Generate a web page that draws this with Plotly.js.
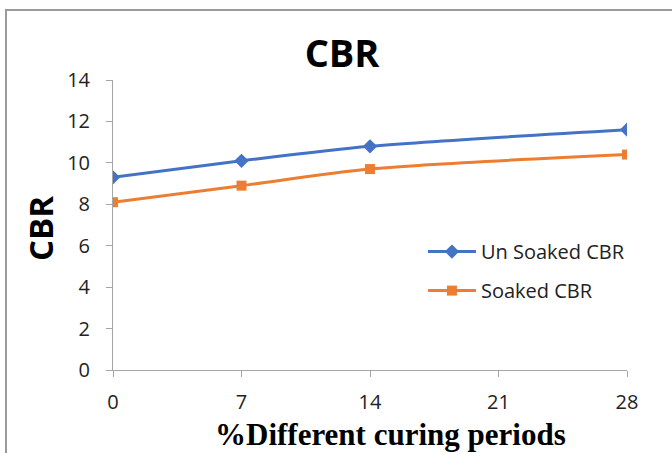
<!DOCTYPE html>
<html>
<head>
<meta charset="utf-8">
<script src="https://cdn.plot.ly/plotly-3.0.1.min.js"></script>
<style>
  html, body { margin: 0; padding: 0; background: #fff; }
  #wrap { position: relative; width: 672px; height: 453px; }
  #chart { width: 672px; height: 453px; }
  #frame { position: absolute; left: 5px; top: 9px; right: 0; bottom: 0;
           border-top: 2px solid #9a9a9a; border-left: 2px solid #9a9a9a; pointer-events: none; }
</style>
</head>
<body>
<div id="wrap">
  <div id="chart"></div>
  <div id="frame"></div>
</div>
<script>
const curingDays = [0, 7, 14, 28];
const unSoakedCBR = [9.3, 10.1, 10.8, 11.6];
const soakedCBR = [8.1, 8.9, 9.7, 10.4];
const xTicks = [0, 7, 14, 21, 28];
const yTicks = [0, 2, 4, 6, 8, 10, 12, 14];
const seriesNames = ["Un Soaked CBR", "Soaked CBR"];

const traces = [
  {
    x: curingDays, y: unSoakedCBR, name: seriesNames[0], type: "scatter", mode: "lines+markers",
    line: { color: "#4472C4", width: 3, shape: "spline", smoothing: 0.8 },
    marker: { symbol: "diamond", size: 11, color: "#4472C4" },
    legendgroup: "a"
  },
  {
    x: curingDays, y: soakedCBR, name: seriesNames[1], type: "scatter", mode: "lines+markers",
    line: { color: "#ED7D31", width: 3, shape: "spline", smoothing: 0.8 },
    marker: { symbol: "square", size: 10, color: "#ED7D31" },
    legendgroup: "b"
  }
];

const layout = {
  width: 672, height: 453,
  margin: { l: 113, r: 45, t: 80, b: 83 },
  paper_bgcolor: "#fff", plot_bgcolor: "#fff",
  showlegend: true,
  title: { text: "<b>CBR</b>", x: 0.509, xref: "container", xanchor: "center", y: 0.881, yref: "container", yanchor: "middle",
           font: { family: "Open Sans, sans-serif", size: 38, color: "#000" } },
  xaxis: {
    range: [0, 28], tickvals: xTicks, ticktext: xTicks.map(String),
    showgrid: false, zeroline: false, showline: true, linecolor: "#a6a6a6", linewidth: 1,
    ticks: "outside", ticklen: 6, tickcolor: "#a6a6a6", ticklabelstandoff: 8,
    tickfont: { family: "Open Sans, sans-serif", size: 20, color: "#222" }
  },
  yaxis: {
    range: [0, 14], tickvals: yTicks,
    showgrid: false, zeroline: false, showline: true, linecolor: "#a6a6a6", linewidth: 1,
    ticks: "outside", ticklen: 6, tickcolor: "#a6a6a6", ticklabelstandoff: 12,
    tickfont: { family: "Open Sans, sans-serif", size: 20, color: "#222" }
  },
  legend: {
    x: 0.603, y: 0.341, xanchor: "left", yanchor: "middle", bgcolor: "rgba(0,0,0,0)",
    font: { family: "Open Sans, sans-serif", size: 20, color: "#222" },
    tracegroupgap: 10, itemwidth: 48
  },
  annotations: [
    { text: "<b>%Different curing periods</b>", xref: "paper", yref: "paper", x: 0.539, y: -0.222,
      xanchor: "center", yanchor: "middle", showarrow: false,
      font: { family: "Liberation Serif, serif", size: 31, color: "#000" } },
    { text: "<b>CBR</b>", xref: "paper", yref: "paper", x: -0.142, y: 0.486, textangle: -90,
      xanchor: "center", yanchor: "middle", showarrow: false,
      font: { family: "Open Sans, sans-serif", size: 33, color: "#000" } }
  ]
};

Plotly.newPlot("chart", traces, layout, { displayModeBar: false, staticPlot: true });
</script>
</body>
</html>
